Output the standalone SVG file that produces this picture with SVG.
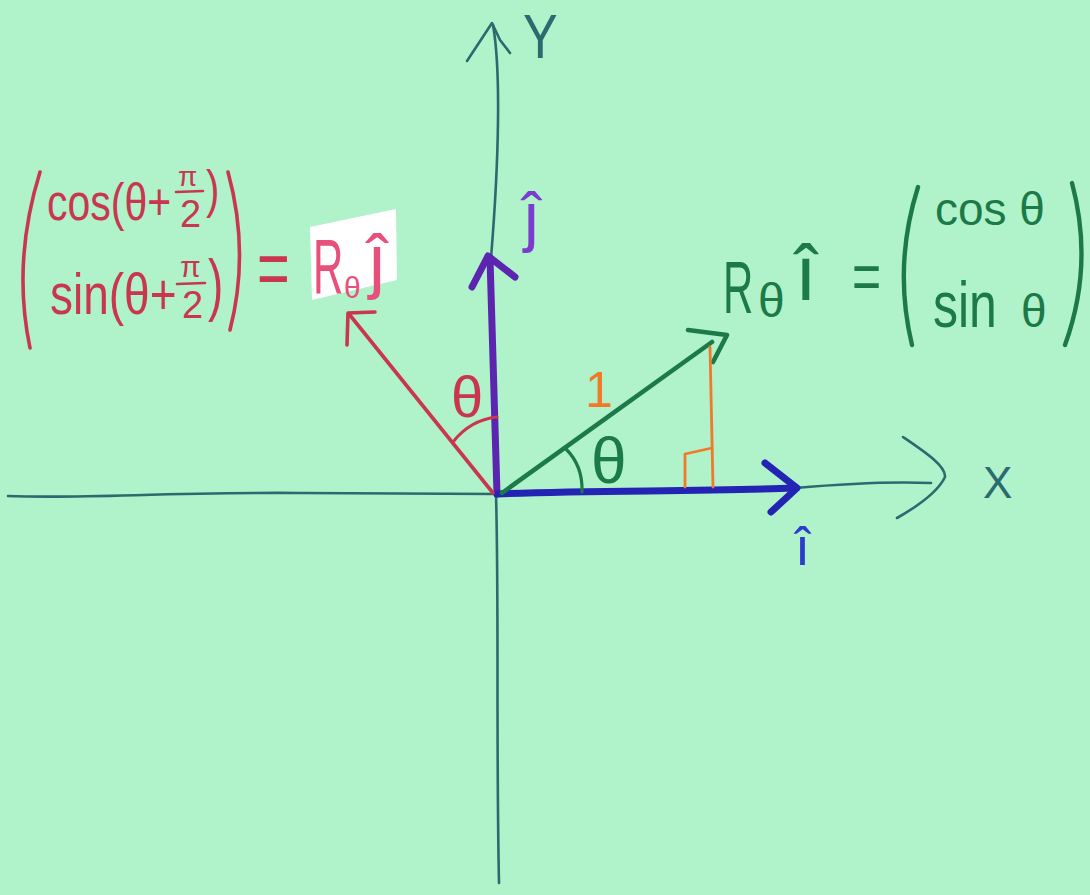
<svg xmlns="http://www.w3.org/2000/svg" width="1090" height="895" viewBox="0 0 1090 895">
<style>
  .ln{fill:none;stroke-linecap:round;stroke-linejoin:round}
  .axis{stroke:#2b6a6e;stroke-width:2.6}
  .vj{stroke:#5b25b0;stroke-width:7}
  .vi{stroke:#2424b4;stroke-width:7}
  .vr{stroke:#c8374e;stroke-width:3.6}
  .vg{stroke:#1b7a48;stroke-width:4.6}
  .org{stroke:#f07a2a;stroke-width:2.8}
  .arcr{stroke:#c8374e;stroke-width:3}
  .arcg{stroke:#1b7a48;stroke-width:3.2}
  .pr{stroke:#c8374e;stroke-width:3.6}
  .pg{stroke:#1b7a48;stroke-width:4.4}
  text{font-family:"Liberation Sans","DejaVu Sans",Arial,sans-serif}
  .tr{fill:#c8374e}
  .tp{fill:#e8507c}
  .tg{fill:#1b7a48}
  .tt{fill:#2b6a6e}
  .tj{fill:#7b3ad0}
  .ti{fill:#2c3ccc}
  .to{fill:#f07a2a}
</style>
<rect x="0" y="0" width="1090" height="895" fill="#b0f2ca"/>

<g id="axes">
  <path class="ln axis" d="M8,496 C90,499 160,492 300,493 C400,494 460,494 496,494"/>
  <path class="ln axis" d="M795,488 C840,484 885,481 931,483"/>
  <path class="ln axis" d="M903,437 C925,452 946,466 945,477 C938,492 918,506 897,518"/>
  <path class="ln axis" d="M493,25 C501,70 499,160 491,258"/>
  <path class="ln axis" d="M496,494 C499,600 496,740 499,883"/>
  <path class="ln axis" d="M467,61 L492,23 L500,40 L510,53"/>
</g>

<g id="connectors">
  <g id="vec-j">
    <path class="ln vj" d="M497,494 C495,420 492,340 490,258"/>
    <path class="ln vj" d="M472,287 L488,256 L515,277"/>
  </g>
  <g id="vec-i">
    <path class="ln vi" d="M497,494 C600,490 700,492 795,488"/>
    <path class="ln vi" d="M765,463 L797,488 L771,512"/>
  </g>
  <g id="vec-green">
    <path class="ln vg" d="M502,493 L712,342"/>
    <path class="ln vg" d="M688,330 L727,335 L713,362"/>
  </g>
  <g id="vec-red">
    <path class="ln vr" d="M493,493 L349,314"/>
    <path class="ln vr" d="M347,345 L348,313 L375,312"/>
  </g>
  <g id="triangle">
    <path class="ln org" d="M710,347 L713,487"/>
    <path class="ln org" d="M685,487 L685,454 L712,448"/>
  </g>
  <g id="angles">
    <path class="ln arcg" d="M566,449 Q583,466 582,492"/>
    <path class="ln arcr" d="M453,442 Q470,420 497,417"/>
  </g>
</g>

<g id="label-y">
  <text class="tt" x="523" y="58" font-size="52" transform="matrix(1 0 0 1.2 0 -11.6)">Y</text>
</g>
<g id="label-x">
  <text class="tt" x="983" y="498" font-size="44">X</text>
</g>
<g id="label-jhat">
  <text class="tj" x="524" y="239" font-size="66">ĵ</text>
</g>
<g id="label-ihat">
  <text class="ti" x="795" y="565" font-size="54">î</text>
</g>
<g id="label-one">
  <text class="to" x="585" y="407" font-size="50">1</text>
</g>
<g id="label-theta-green">
  <text class="tg" x="591" y="483" font-size="64">θ</text>
</g>
<g id="label-theta-red">
  <text class="tr" x="451" y="417" font-size="58">θ</text>
</g>

<g id="red-matrix">
  <path class="ln pr" d="M40,172 Q12,262 30,348"/>
  <path class="ln pr" d="M228,172 Q250,252 230,330"/>
  <text class="tr" x="47" y="220" font-size="41" transform="matrix(1 0 0 1.27 0 -59.4)">cos(θ+</text>
  <text class="tr" x="178" y="186" font-size="28">π</text>
  <path class="ln pr" style="stroke-width:2.6" d="M176,192 L203,191"/>
  <text class="tr" x="180" y="227" font-size="38">2</text>
  <text class="tr" x="206" y="207" font-size="40" transform="matrix(1 0 0 1.28 0 -57.96)">)</text>

  <text class="tr" x="50" y="314" font-size="46" transform="matrix(1 0 0 1.25 0 -78.5)">sin(θ+</text>
  <text class="tr" x="180" y="277" font-size="30">π</text>
  <path class="ln pr" style="stroke-width:2.6" d="M177,284 L205,283"/>
  <text class="tr" x="182" y="318" font-size="38">2</text>
  <text class="tr" x="208" y="308.5" font-size="46" transform="matrix(1 0 0 1.5 0 -154.25)">)</text>

  <text class="tr" x="257" y="295" font-size="56" transform="matrix(1 0 0 1.43 0 -126.85)">=</text>
</g>

<g id="label-rtheta-j">
  <polygon points="310,227 396,209 397,280 312,300" fill="#ffffff"/>
  <text class="tp" x="313" y="293" font-size="42" transform="matrix(1 0 0 1.85 0 -249.05)">R</text>
  <text class="tp" x="344" y="298" font-size="30">θ</text>
  <text class="tp" x="369" y="285" font-size="72">ĵ</text>
</g>

<g id="green-matrix">
  <text class="tg" x="723" y="313" font-size="42" transform="matrix(1 0 0 1.75 0 -234.75)">R</text>
  <text class="tg" x="758" y="317" font-size="48">θ</text>
  <text class="tg" x="795" y="300" font-size="78">î</text>
  <text class="tg" x="852" y="299" font-size="50" transform="matrix(1 0 0 1.32 0 -95.68)">=</text>
  <path class="ln pg" d="M918,187 Q893,266 912,345"/>
  <path class="ln pg" d="M1072,183 Q1094,265 1065,345"/>
  <text class="tg" x="935" y="225" font-size="46">cos θ</text>
  <text class="tg" x="933" y="327" font-size="50" transform="matrix(1 0 0 1.3 0 -98.1)">sin</text>
  <text class="tg" x="1021" y="327" font-size="46">θ</text>
</g>
</svg>
